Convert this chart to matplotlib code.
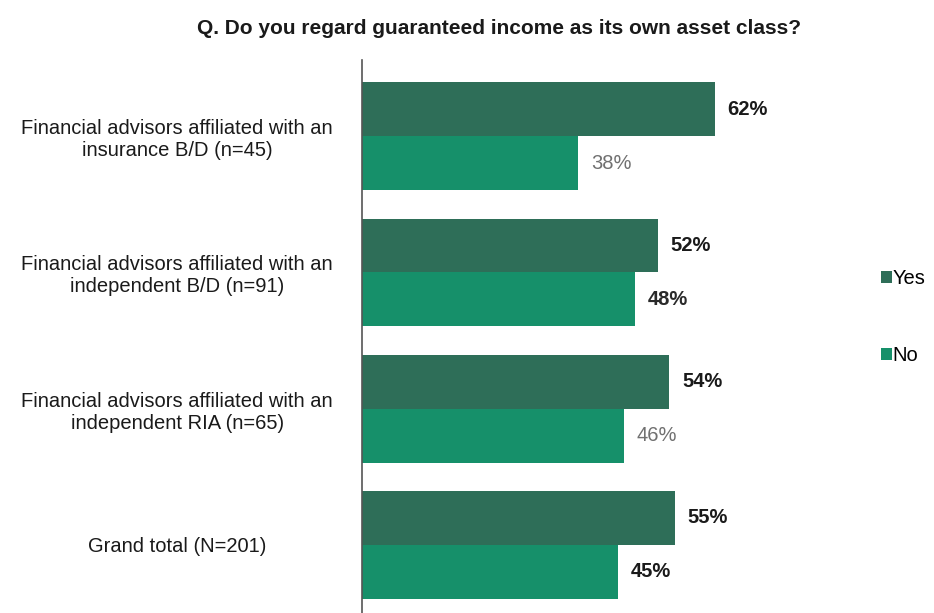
import matplotlib.pyplot as plt

plt.rcParams['font.family'] = ['Liberation Sans', 'DejaVu Sans']

# Survey responses by advisor channel
groups = [
    'Financial advisors affiliated with an\ninsurance B/D (n=45)',
    'Financial advisors affiliated with an\nindependent B/D (n=91)',
    'Financial advisors affiliated with an\nindependent RIA (n=65)',
    'Grand total (N=201)',
]
yes_pct = [62, 52, 54, 55]
no_pct = [38, 48, 46, 45]
no_label_colors = ['#707070', '#2a2a2a', '#707070', '#1a1a1a']

yes_color = '#2e6e58'
no_color = '#16906a'

fig = plt.figure(figsize=(9.34, 6.13), dpi=100)
ax = fig.add_axes([362 / 934, 0.0, 398 / 934, 553 / 613])

pos = list(range(len(groups)))
h = 0.396
ax.barh([p - h / 2 for p in pos], yes_pct, height=h, color=yes_color, label='Yes')
ax.barh([p + h / 2 for p in pos], no_pct, height=h, color=no_color, label='No')

for p, v in zip(pos, yes_pct):
    ax.text(v + 2.3, p - h / 2, f'{v}%', va='center', ha='left', fontsize=14.5,
            fontweight='bold', color='#1a1a1a', clip_on=False)
for p, v, c in zip(pos, no_pct, no_label_colors):
    ax.text(v + 2.3, p + h / 2, f'{v}%', va='center', ha='left', fontsize=14.5,
            fontweight='normal' if c == '#707070' else 'bold', color=c, clip_on=False)

ax.set_xlim(0, 70)
ax.set_ylim(3.5, -0.56)
ax.set_yticks(pos)
ax.set_yticklabels(groups, fontsize=14.5, color='#1a1a1a', linespacing=1.2)
for lbl in ax.get_yticklabels():
    lbl.set_horizontalalignment('center')
ax.tick_params(axis='y', length=0, pad=133)
ax.set_xticks([])

for s in ['top', 'right', 'bottom']:
    ax.spines[s].set_visible(False)
ax.spines['left'].set_color('#555555')
ax.spines['left'].set_linewidth(1.2)

fig.text(0.534, 0.953, 'Q. Do you regard guaranteed income as its own asset class?',
         ha='center', va='center', fontsize=15, fontweight='bold', color='#1a1a1a')

fig.legend(loc='center left', bbox_to_anchor=(0.943, 0.483), frameon=False,
           fontsize=14.5, handlelength=0.55, handleheight=0.55, handletextpad=0.05,
           labelspacing=2.9, borderpad=0, borderaxespad=0)

fig.savefig('out.png', dpi=100)
